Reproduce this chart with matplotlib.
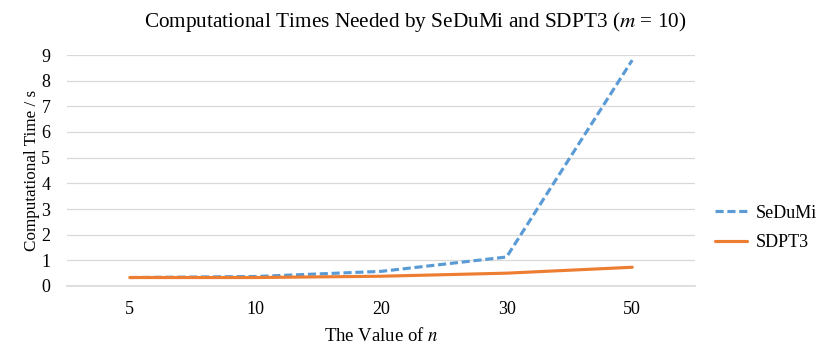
import matplotlib
matplotlib.use("Agg")
import matplotlib.pyplot as plt

categories = ["5", "10", "20", "30", "50"]
sedumi = [0.33, 0.37, 0.57, 1.13, 8.8]
sdpt3 = [0.33, 0.33, 0.38, 0.50, 0.73]
yticks = [0, 1, 2, 3, 4, 5, 6, 7, 8, 9]

plt.rcParams['font.family'] = ['Liberation Serif', 'DejaVu Serif']
plt.rcParams['mathtext.fontset'] = 'stix'

fig = plt.figure(figsize=(8.3, 3.63), dpi=100)
ax = fig.add_axes([67/830, 1-286/363, (695-67)/830, (286-55)/363])

x = list(range(len(categories)))
ax.plot(x, sedumi, color='#5B9BD5', lw=2.25, linestyle=(0, (2.6, 1.2)),
        dash_capstyle='butt', label='SeDuMi', zorder=3)
ax.plot(x, sdpt3, color='#ED7D31', lw=2.25, label='SDPT3', zorder=3,
        solid_capstyle='round')

ax.set_xlim(-0.5, len(categories) - 0.5)
ax.set_ylim(0, 9)
ax.set_xticks(x)
ax.set_xticklabels(categories)
ax.set_yticks(yticks)
ax.tick_params(length=0, labelsize=13, colors='#000000')
ax.tick_params(axis='x', pad=11)
ax.tick_params(axis='y', pad=12)
ax.grid(axis='y', color='#d9d9d9', lw=0.9)
for s in ['top', 'right', 'left']:
    ax.spines[s].set_visible(False)
ax.spines['bottom'].set_color('#d9d9d9')
ax.spines['bottom'].set_linewidth(1.2)
ax.set_axisbelow(True)

ax.set_xlabel('The Value of $n$', fontsize=13.5, labelpad=6)
ax.set_ylabel('Computational Time / s', fontsize=12.3, labelpad=1)
fig.text(0.5, 1-22/363, 'Computational Times Needed by SeDuMi and SDPT3 ($m$ = 10)',
         ha='center', va='center', fontsize=15.3)

leg = ax.legend(loc='center left', bbox_to_anchor=((708 - 67)/628, (286 - 228)/231),
                frameon=False, fontsize=13, handlelength=1.75, handletextpad=0.5,
                labelspacing=0.7, borderaxespad=0)

fig.savefig('out.png', dpi=100)
